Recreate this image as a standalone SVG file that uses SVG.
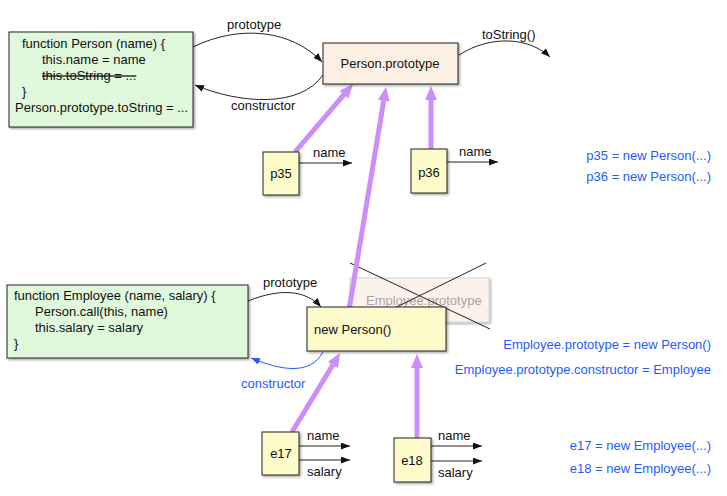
<svg xmlns="http://www.w3.org/2000/svg" width="727" height="496" viewBox="0 0 727 496">
<style>
text{font-family:"Liberation Sans",Arial,sans-serif;font-size:13px;fill:#111}
.blue{fill:#1f5bff}
.box{stroke:#222;stroke-width:1}
.green{fill:#e0f8dc}
.peach{fill:#fcefe4}
.yellow{fill:#fdfbca}
.conn{fill:none;stroke:#222;stroke-width:1}
.purple{fill:none;stroke:#cc8ef8;stroke-width:5}
.mid{text-anchor:middle}
.end{text-anchor:end}
</style>
<defs>
<filter id="sh" x="-10%" y="-10%" width="130%" height="140%">
<feDropShadow dx="1.5" dy="1.5" stdDeviation="0.8" flood-color="#000" flood-opacity="0.35"/>
</filter>
<marker id="ah" markerUnits="userSpaceOnUse" markerWidth="10" markerHeight="8" refX="9" refY="3.5" orient="auto">
<path d="M0,0 L9,3.5 L0,7 z" fill="#111"/>
</marker>
<marker id="ahb" markerUnits="userSpaceOnUse" markerWidth="10" markerHeight="8" refX="9" refY="3.5" orient="auto">
<path d="M0,0 L9,3.5 L0,7 z" fill="#1f5bff"/>
</marker>
<marker id="ap" markerUnits="userSpaceOnUse" markerWidth="16" markerHeight="14" refX="2" refY="6" orient="auto">
<path d="M0,0 L14,6 L0,12 z" fill="#cc8ef8"/>
</marker>
</defs>

<g id="employee-prototype-old">
<rect x="350" y="278" width="139" height="44" fill="#fbf1ea" stroke="#d6ceca" filter="url(#sh)" opacity="0.9"/>
<text x="366" y="305" style="fill:#aca4a2">Employee.prototype</text>
</g>

<g id="connectors">
<path class="conn" d="M193,47 C240,24 292,30 322,62" marker-end="url(#ah)"/>
<path class="conn" d="M323,75 C300,108 240,104 195,85" marker-end="url(#ah)"/>
<path class="conn" d="M459,55 C492,34 530,38 550,57" marker-end="url(#ah)"/>
<path class="conn" d="M299,163 L352,163" marker-end="url(#ah)"/>
<path class="conn" d="M447,162 L498,162" marker-end="url(#ah)"/>
<path class="conn" d="M248,301 C280,288 306,290 321,307" marker-end="url(#ah)"/>
<path d="M323,352 C310,376 280,370 251,358" fill="none" stroke="#1f5bff" stroke-width="1" marker-end="url(#ahb)"/>
<path class="conn" d="M299,446 L350,446" marker-end="url(#ah)"/>
<path class="conn" d="M299,460 L350,460" marker-end="url(#ah)"/>
<path class="conn" d="M431,446 L482,446" marker-end="url(#ah)"/>
<path class="conn" d="M431,461 L482,461" marker-end="url(#ah)"/>
<line class="conn" x1="350" y1="263" x2="490" y2="329"/>
<line class="conn" x1="486" y1="263" x2="350" y2="330"/>
<path class="purple" d="M295,152 L345.2,93.1" marker-end="url(#ap)"/>
<path class="purple" d="M349,310 L384,98.8" marker-end="url(#ap)"/>
<path class="purple" d="M431,149 L431,98" marker-end="url(#ap)"/>
<path class="purple" d="M292,432 L333.8,363.3" marker-end="url(#ap)"/>
<path class="purple" d="M417,438 L417,366" marker-end="url(#ap)"/>
<text x="227" y="29">prototype</text>
<text x="231" y="110">constructor</text>
<text x="482" y="39">toString()</text>
<text x="313" y="157">name</text>
<text x="459" y="156">name</text>
<text x="263" y="287">prototype</text>
<text x="241" y="388" class="blue">constructor</text>
<text x="307" y="440">name</text>
<text x="307" y="476">salary</text>
<text x="438" y="440">name</text>
<text x="438" y="477">salary</text>
</g>

<g id="person-function">
<rect class="box green" x="9" y="32" width="184" height="95" filter="url(#sh)"/>
<text x="22" y="48">function Person (name) {</text>
<text x="42" y="64">this.name = name</text>
<text x="42" y="80" text-decoration="line-through">this.toString = ...</text>
<text x="22" y="96">}</text>
<text x="15" y="112">Person.prototype.toString = ...</text>
</g>

<g id="person-prototype">
<rect class="box peach" x="323" y="43" width="135" height="41" filter="url(#sh)"/>
<text x="390" y="68" class="mid">Person.prototype</text>
</g>

<g id="p35">
<rect class="box yellow" x="263" y="152" width="36" height="43" filter="url(#sh)"/>
<text x="281" y="178" class="mid">p35</text>
</g>

<g id="p36">
<rect class="box yellow" x="411" y="149" width="36" height="44" filter="url(#sh)"/>
<text x="429" y="177" class="mid">p36</text>
</g>

<g id="employee-function">
<rect class="box green" x="7" y="285" width="241" height="73" filter="url(#sh)"/>
<text x="14" y="300">function Employee (name, salary) {</text>
<text x="35" y="316">Person.call(this, name)</text>
<text x="35" y="332">this.salary = salary</text>
<text x="14" y="348">}</text>
</g>

<g id="new-person">
<rect class="box yellow" x="307" y="307" width="139" height="44" filter="url(#sh)"/>
<text x="314" y="334">new Person()</text>
</g>

<g id="e17">
<rect class="box yellow" x="262" y="432" width="37" height="43" filter="url(#sh)"/>
<text x="281" y="458" class="mid">e17</text>
</g>

<g id="e18">
<rect class="box yellow" x="394" y="438" width="37" height="44" filter="url(#sh)"/>
<text x="412" y="465" class="mid">e18</text>
</g>

<g id="notes">
<text x="711" y="160" class="blue end">p35 = new Person(...)</text>
<text x="711" y="181" class="blue end">p36 = new Person(...)</text>
<text x="711" y="349" class="blue end">Employee.prototype = new Person()</text>
<text x="711" y="374" class="blue end">Employee.prototype.constructor = Employee</text>
<text x="711" y="450" class="blue end">e17 = new Employee(...)</text>
<text x="711" y="473" class="blue end">e18 = new Employee(...)</text>
</g>
</svg>
